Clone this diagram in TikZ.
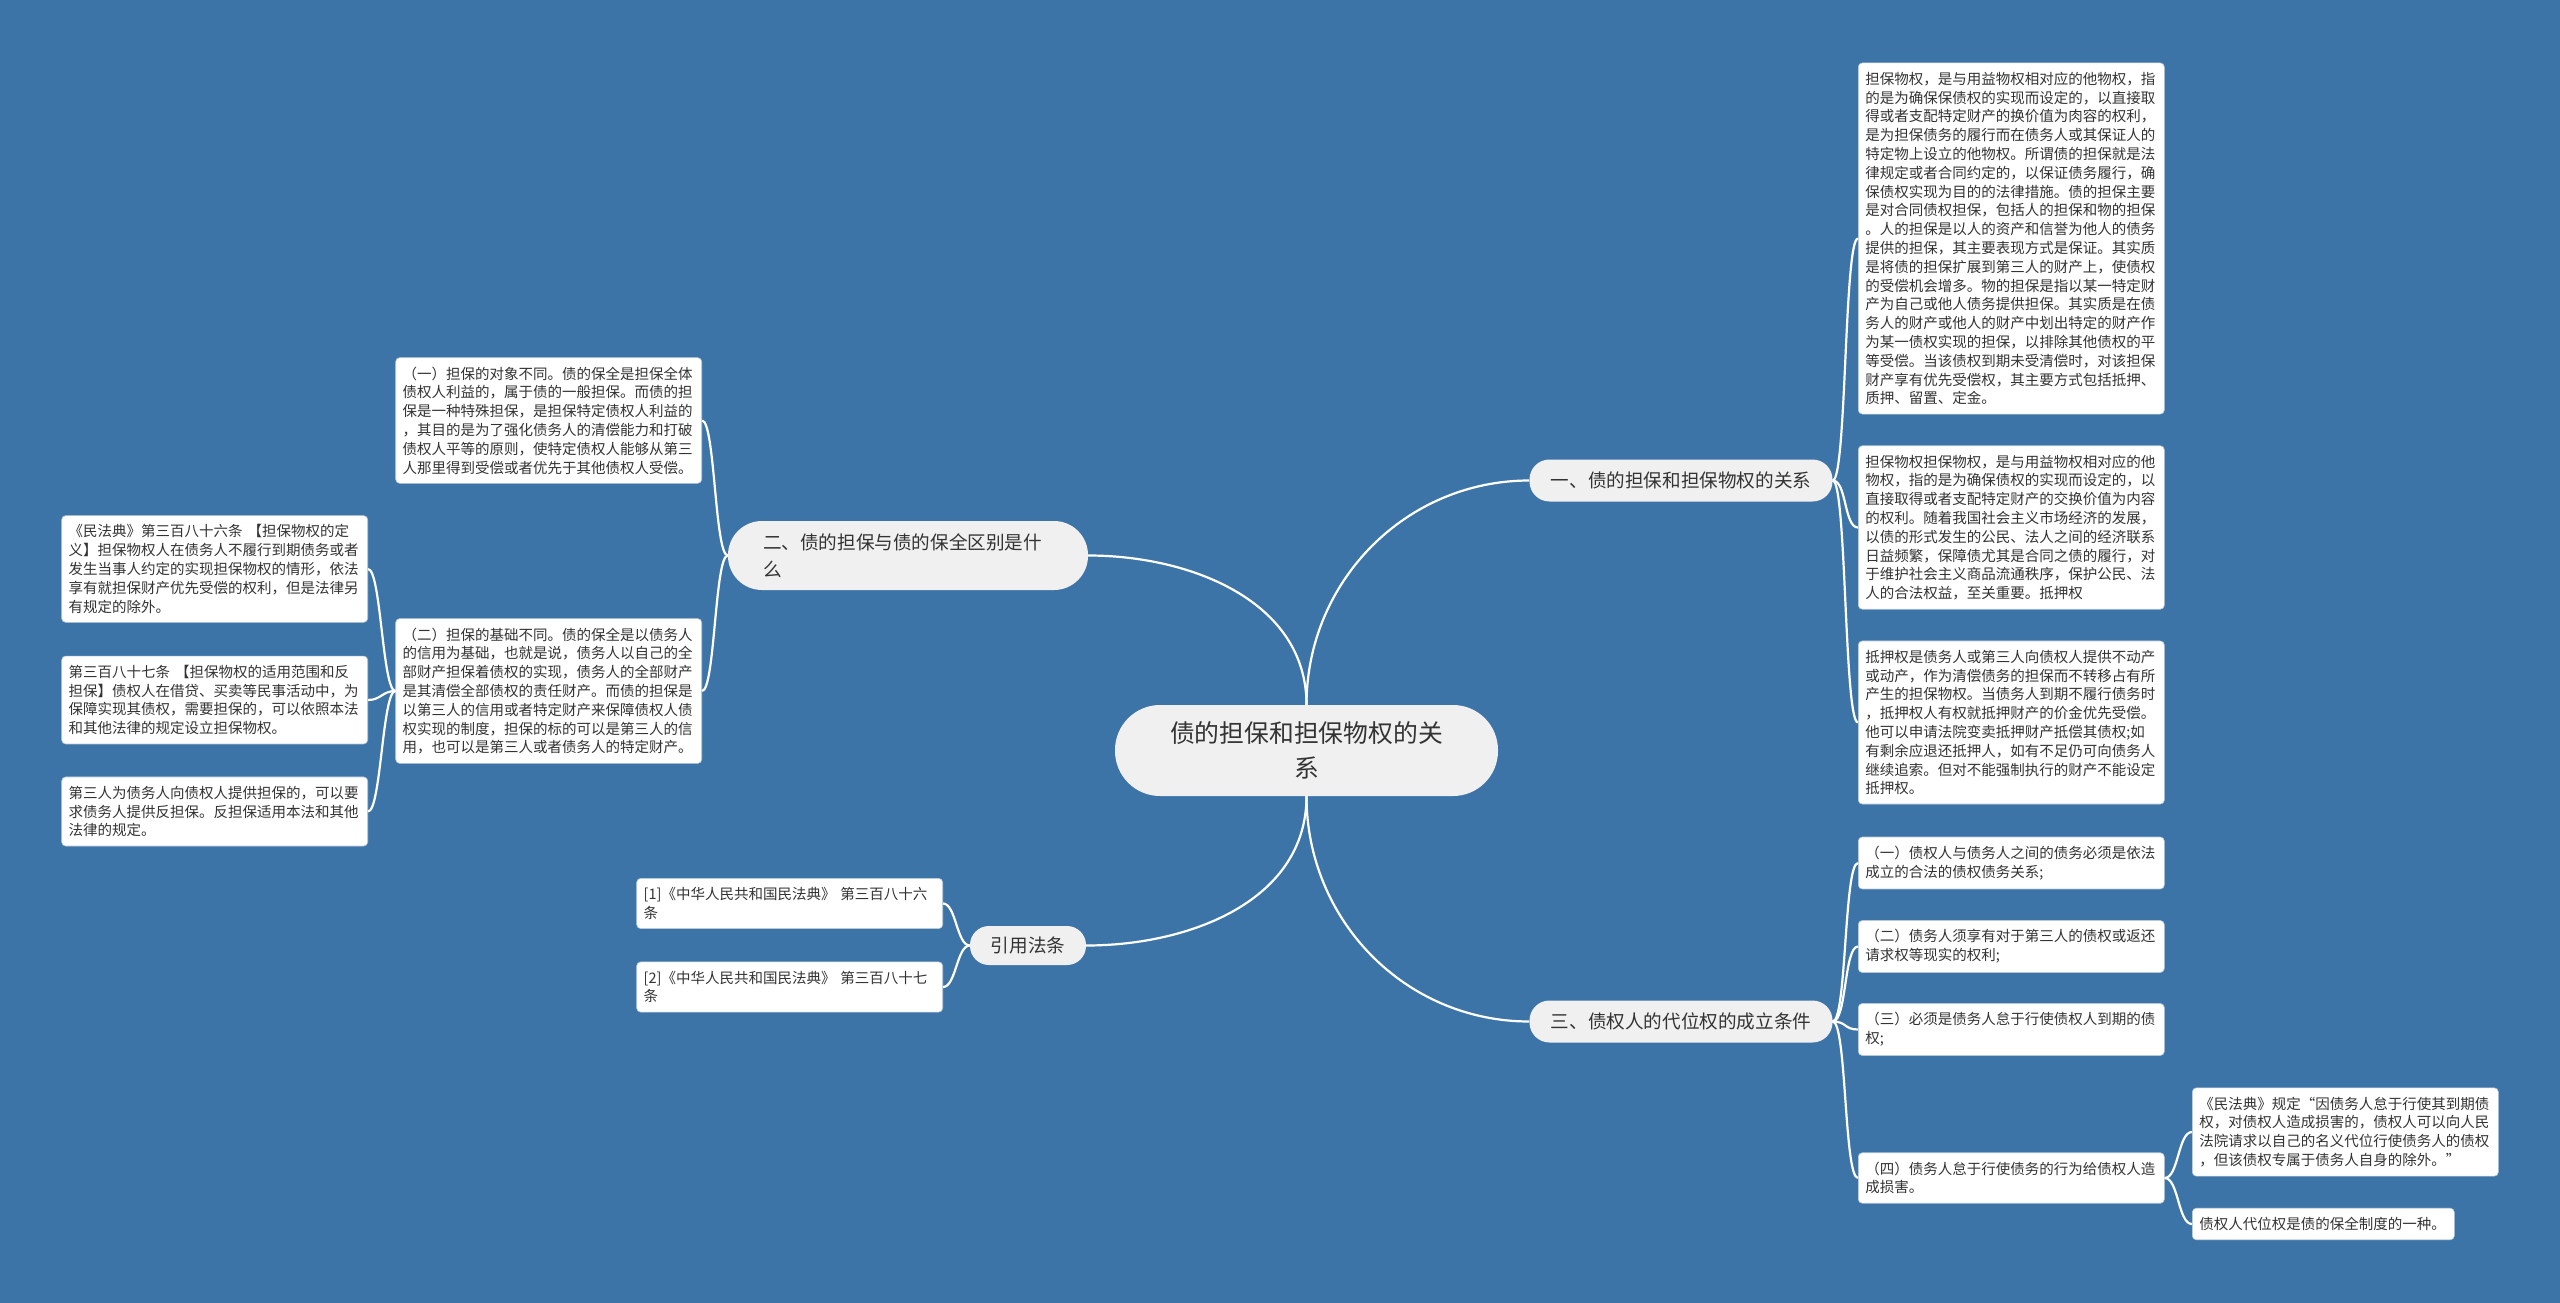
\documentclass[tikz,border=0pt]{standalone}
\usepackage{fontspec}
\setmainfont{Noto Sans CJK SC}
\definecolor{bgblue}{HTML}{3D74A8}
\definecolor{txt}{HTML}{333333}
\definecolor{pill}{HTML}{F0F0F0}
\definecolor{leafline}{HTML}{B8C8D8}

\begin{document}
\begin{tikzpicture}[x=1pt,y=-1pt,
  link/.style={white,line width=2.2pt},
  leaf/.style={fill=white,draw=leafline,line width=0.6pt,rounded corners=4pt,text=txt,
    font=\fontsize{14.5}{18.8}\selectfont,align=left,text width=292pt,
    inner xsep=7pt,inner ysep=9pt},
  topic/.style={fill=pill,text=txt,font=\fontsize{18.6}{27}\selectfont,
    rounded corners=20pt,inner sep=0pt,minimum height=42pt},
  root/.style={fill=pill,text=txt,font=\fontsize{24.8}{35}\selectfont,align=center,
    rounded corners=45pt,inner sep=0pt,minimum width=383pt,minimum height=91pt}]

\fill[bgblue] (0,0) rectangle (2560,1303);

% centre and main topics
\node[root] (root) at (1306.5,750.5) {债的担保和担保物权的关\\系};
\node[topic,minimum width=303pt] (rel) at (1681,480.5) {一、债的担保和担保物权的关系};
\node[topic,minimum width=303pt] (subr) at (1681,1021.5) {三、债权人的代位权的成立条件};
\node[topic,rounded corners=34pt,minimum height=69pt,text width=290pt,align=left,
  inner xsep=35pt] (diff) at (908,555.5) {二、债的担保与债的保全区别是什\\么};
\node[topic,minimum width=116pt,minimum height=39pt,rounded corners=19pt] (cite) at (1028,945.5) {引用法条};

\draw[link] (root.north) to[out=90,in=180] (rel.west);
\draw[link] (root.north) to[out=90,in=0] (diff.east);
\draw[link] (root.south) to[out=-90,in=180] (subr.west);
\draw[link] (root.south) to[out=-90,in=0] (cite.east);

% right: 一
\node[leaf,anchor=west] (rel1) at (1858,238.5) {担保物权，是与用益物权相对应的他物权，指\\
的是为确保保债权的实现而设定的，以直接取\\
得或者支配特定财产的换价值为肉容的权利，\\
是为担保债务的履行而在债务人或其保证人的\\
特定物上设立的他物权。所谓债的担保就是法\\
律规定或者合同约定的，以保证债务履行，确\\
保债权实现为目的的法律措施。债的担保主要\\
是对合同债权担保，包括人的担保和物的担保\\
。人的担保是以人的资产和信誉为他人的债务\\
提供的担保，其主要表现方式是保证。其实质\\
是将债的担保扩展到第三人的财产上，使债权\\
的受偿机会增多。物的担保是指以某一特定财\\
产为自己或他人债务提供担保。其实质是在债\\
务人的财产或他人的财产中划出特定的财产作\\
为某一债权实现的担保，以排除其他债权的平\\
等受偿。当该债权到期未受清偿时，对该担保\\
财产享有优先受偿权，其主要方式包括抵押、\\
质押、留置、定金。};
\node[leaf,anchor=west] (rel2) at (1858,527.5) {担保物权担保物权，是与用益物权相对应的他\\
物权，指的是为确保债权的实现而设定的，以\\
直接取得或者支配特定财产的交换价值为内容\\
的权利。随着我国社会主义市场经济的发展，\\
以债的形式发生的公民、法人之间的经济联系\\
日益频繁，保障债尤其是合同之债的履行，对\\
于维护社会主义商品流通秩序，保护公民、法\\
人的合法权益，至关重要。抵押权};
\node[leaf,anchor=west] (rel3) at (1858,722.5) {抵押权是债务人或第三人向债权人提供不动产\\
或动产，作为清偿债务的担保而不转移占有所\\
产生的担保物权。当债务人到期不履行债务时\\
，抵押权人有权就抵押财产的价金优先受偿。\\
他可以申请法院变卖抵押财产抵偿其债权;如\\
有剩余应退还抵押人，如有不足仍可向债务人\\
继续追索。但对不能强制执行的财产不能设定\\
抵押权。};
\foreach \n in {rel1,rel2,rel3}
  \draw[link] (rel.east) .. controls +(14,0) and +(-14,0) .. (\n.west);

% right: 三
\node[leaf,anchor=west] (subr1) at (1858,863) {（一）债权人与债务人之间的债务必须是依法\\成立的合法的债权债务关系;};
\node[leaf,anchor=west] (subr2) at (1858,946.5) {（二）债务人须享有对于第三人的债权或返还\\请求权等现实的权利;};
\node[leaf,anchor=west] (subr3) at (1858,1029.5) {（三）必须是债务人怠于行使债权人到期的债\\权;};
\node[leaf,anchor=west] (subr4) at (1858,1178) {（四）债务人怠于行使债务的行为给债权人造\\成损害。};
\foreach \n in {subr1,subr2,subr3,subr4}
  \draw[link] (subr.east) .. controls +(14,0) and +(-14,0) .. (\n.west);

\node[leaf,anchor=west] (law) at (2192,1132) {《民法典》规定“因债务人怠于行使其到期债\\
权，对债权人造成损害的，债权人可以向人民\\
法院请求以自己的名义代位行使债务人的债权\\
，但该债权专属于债务人自身的除外。”};
\node[leaf,anchor=west,text width=248pt] (kind) at (2192,1224) {债权人代位权是债的保全制度的一种。};
\foreach \n in {law,kind}
  \draw[link] (subr4.east) .. controls +(14,0) and +(-14,0) .. (\n.west);

% left: 二
\node[leaf,anchor=east] (diff1) at (702,420.5) {（一）担保的对象不同。债的保全是担保全体\\
债权人利益的，属于债的一般担保。而债的担\\
保是一种特殊担保，是担保特定债权人利益的\\
，其目的是为了强化债务人的清偿能力和打破\\
债权人平等的原则，使特定债权人能够从第三\\
人那里得到受偿或者优先于其他债权人受偿。};
\node[leaf,anchor=east] (diff2) at (702,691) {（二）担保的基础不同。债的保全是以债务人\\
的信用为基础，也就是说，债务人以自己的全\\
部财产担保着债权的实现，债务人的全部财产\\
是其清偿全部债权的责任财产。而债的担保是\\
以第三人的信用或者特定财产来保障债权人债\\
权实现的制度，担保的标的可以是第三人的信\\
用，也可以是第三人或者债务人的特定财产。};
\foreach \n in {diff1,diff2}
  \draw[link] (diff.west) .. controls +(-13,0) and +(13,0) .. (\n.east);

\node[leaf,anchor=east] (art1) at (368,569) {《民法典》第三百八十六条 【担保物权的定\\
义】担保物权人在债务人不履行到期债务或者\\
发生当事人约定的实现担保物权的情形，依法\\
享有就担保财产优先受偿的权利，但是法律另\\
有规定的除外。};
\node[leaf,anchor=east] (art2) at (368,700) {第三百八十七条 【担保物权的适用范围和反\\
担保】债权人在借贷、买卖等民事活动中，为\\
保障实现其债权，需要担保的，可以依照本法\\
和其他法律的规定设立担保物权。};
\node[leaf,anchor=east] (art3) at (368,811.5) {第三人为债务人向债权人提供担保的，可以要\\
求债务人提供反担保。反担保适用本法和其他\\
法律的规定。};
\foreach \n in {art1,art2,art3}
  \draw[link] (diff2.west) .. controls +(-13,0) and +(13,0) .. (\n.east);

% left: 引用法条
\node[leaf,anchor=east] (ref1) at (943,903.5) {[1]《中华人民共和国民法典》 第三百八十六\\条};
\node[leaf,anchor=east] (ref2) at (943,987) {[2]《中华人民共和国民法典》 第三百八十七\\条};
\foreach \n in {ref1,ref2}
  \draw[link] (cite.west) .. controls +(-13,0) and +(13,0) .. (\n.east);
\end{tikzpicture}
\end{document}
